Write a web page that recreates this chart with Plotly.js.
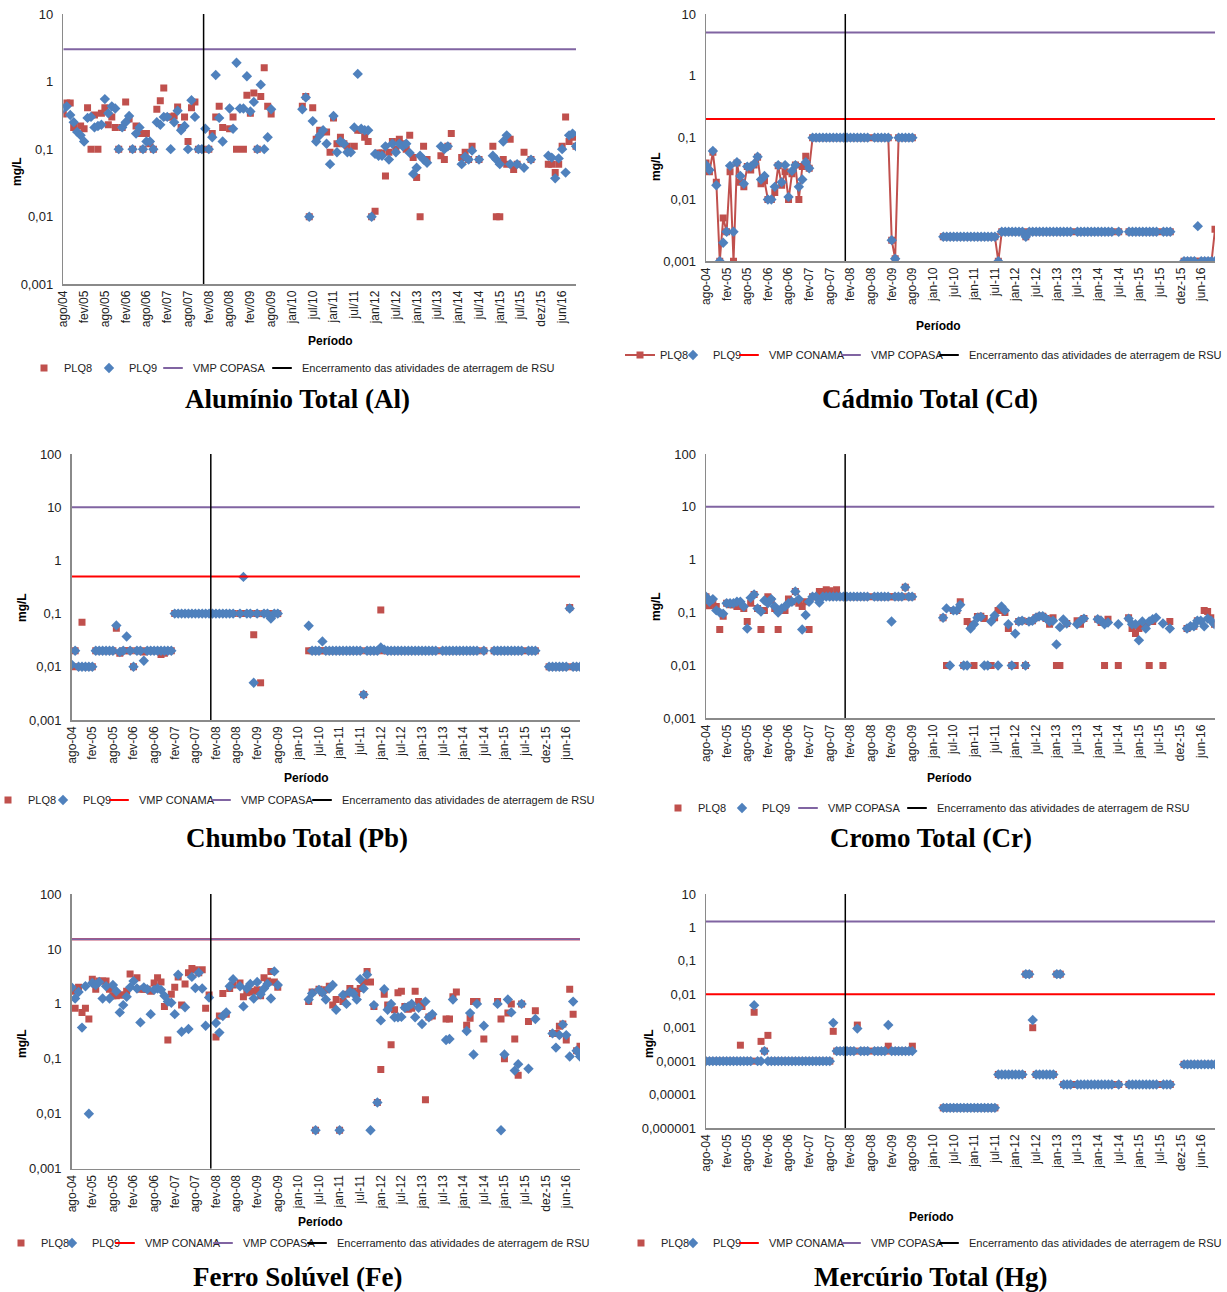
<!DOCTYPE html>
<html><head><meta charset="utf-8">
<script src="https://cdn.plot.ly/plotly-3.0.1.min.js"></script>
<style>html,body{margin:0;padding:0;background:#fff}#chart{width:1227px;height:1292px}</style>
</head><body><div id="chart"></div>
<script>
const _ = null;
const N = 149;
const tickLabelsAl = ['ago/04','fev/05','ago/05','fev/06','ago/06','fev/07','ago/07','fev/08','ago/08','fev/09','ago/09','jan/10','jul/10','jan/11','jul/11','jan/12','jul/12','jan/13','jul/13','jan/14','jul/14','jan/15','jul/15','dez/15','jun/16'];
const tickLabels = ['ago-04','fev-05','ago-05','fev-06','ago-06','fev-07','ago-07','fev-08','ago-08','fev-09','ago-09','jan-10','jul-10','jan-11','jul-11','jan-12','jul-12','jan-13','jul-13','jan-14','jul-14','jan-15','jul-15','dez-15','jun-16'];
const closureIndex = 40.5;
const elements = ['Al','Cd','Pb','Cr','Fe','Hg'];
const titles = ['Alumínio Total (Al)','Cádmio Total (Cd)','Chumbo Total (Pb)','Cromo Total (Cr)','Ferro Solúvel (Fe)','Mercúrio Total (Hg)'];
const vmpCOPASA = [3, 5, 10, 10, 15, 1.5];
const vmpCONAMA = [null, 0.2, 0.5, null, 15, 0.01];

const alPLQ8 = [
0.33,0.48,0.48,0.21,_,0.22,0.2,0.41,0.1,0.32,
0.1,0.34,0.41,0.23,0.3,0.21,0.1,0.21,0.5,0.28,
0.1,0.22,0.17,0.1,0.17,0.12,0.1,0.39,0.52,0.8,
0.3,0.3,0.31,0.42,0.21,0.3,0.13,0.41,0.5,0.1,
0.1,_,0.1,0.17,0.3,0.43,0.21,_,0.2,0.3,
0.1,_,0.1,0.63,0.34,0.68,0.1,0.6,1.6,0.43,
0.33,_,_,_,_,_,_,_,_,0.43,
0.6,0.01,0.41,0.14,0.19,_,0.18,0.09,0.29,0.12,
0.15,0.12,0.11,_,0.11,0.19,0.19,0.15,0.13,0.01,
0.012,0.088,0.088,0.04,0.09,0.13,0.1,0.14,0.12,0.1,
0.16,0.075,0.038,0.01,0.11,0.07,_,_,_,0.08,
0.07,0.11,0.17,_,_,0.075,0.09,0.07,0.11,_,
0.07,_,_,_,0.11,0.01,0.01,0.07,0.06,0.14,
0.05,0.06,_,0.09,_,0.07,_,_,_,_,
0.06,0.06,0.045,0.06,0.11,0.3,0.13,0.15,0.11];
const alPLQ9 = [
0.4,0.43,0.32,0.25,0.18,0.16,0.13,0.29,0.3,0.21,
0.22,0.23,0.55,0.34,0.43,0.4,0.1,0.21,0.25,0.31,
0.1,0.17,0.21,0.1,0.13,0.13,0.1,0.25,0.23,0.3,
0.3,0.1,0.25,0.37,0.19,0.22,0.1,0.53,0.3,0.1,
0.1,0.2,0.1,0.15,1.25,0.29,0.13,_,0.4,0.2,
1.9,0.4,0.4,1.2,0.36,0.5,0.1,0.9,0.1,0.15,
0.39,_,_,_,_,_,_,_,_,0.39,
0.58,0.01,0.26,0.13,0.16,0.19,0.12,0.06,0.31,0.09,
0.13,0.12,0.09,0.09,0.21,1.3,0.2,0.19,0.19,0.01,
0.085,0.08,0.08,0.11,0.07,0.12,0.09,0.12,0.11,0.12,
0.088,0.043,0.053,0.08,0.07,0.063,_,_,_,0.11,
0.1,0.11,_,_,_,0.06,0.077,0.07,0.095,_,
0.07,_,_,_,0.08,0.07,0.06,0.13,0.16,0.06,
_,0.06,_,0.053,_,0.07,_,_,_,_,
0.08,0.075,0.037,0.073,0.1,0.045,0.16,0.17,0.11];

const cdPLQ8 = [
0.039,0.028,0.058,0.019,0.001,0.005,0.003,0.028,0.001,0.039,
0.019,0.016,0.034,0.03,0.036,0.048,0.018,0.02,0.01,0.01,
0.013,0.035,0.017,0.028,0.01,0.026,0.036,0.01,0.034,0.05,
0.032,0.1,0.1,0.1,0.1,0.1,0.1,0.1,0.1,0.1,
0.1,0.1,0.1,0.1,0.1,0.1,0.1,0.1,_,0.1,
0.1,0.1,0.1,0.1,0.0022,0.0011,0.1,0.1,0.1,0.1,
0.1,_,_,_,_,_,_,_,_,0.0025,
0.0025,0.0025,0.0025,0.0025,0.0025,0.0025,0.0025,0.0025,0.0025,0.0025,
0.0025,0.0025,0.0025,0.0025,0.0025,0.001,0.003,0.003,0.003,0.003,
0.003,0.003,0.003,0.0025,0.003,0.003,0.003,0.003,0.003,0.003,
0.003,0.003,0.003,0.003,0.003,0.003,0.003,_,0.003,0.003,
0.003,0.003,0.003,0.003,0.003,0.003,0.003,0.003,0.003,_,
0.003,_,_,0.003,0.003,0.003,0.003,0.003,0.003,0.003,
0.003,0.003,_,0.003,0.003,0.003,_,_,_,0.001,
0.001,0.001,0.001,0.001,0.001,0.001,0.001,0.001,0.0033];
const cdPLQ9 = [
0.036,0.03,0.061,0.017,0.001,0.002,0.003,0.035,0.003,0.04,
0.024,0.018,0.034,0.034,0.038,0.049,0.021,0.024,0.01,0.01,
0.016,0.036,0.019,0.036,0.011,0.029,0.036,0.016,0.021,0.04,
0.032,0.1,0.1,0.1,0.1,0.1,0.1,0.1,0.1,0.1,
0.1,0.1,0.1,0.1,0.1,0.1,0.1,0.1,_,0.1,
0.1,0.1,0.1,0.1,0.0022,0.0011,0.1,0.1,0.1,0.1,
0.1,_,_,_,_,_,_,_,_,0.0025,
0.0025,0.0025,0.0025,0.0025,0.0025,0.0025,0.0025,0.0025,0.0025,0.0025,
0.0025,0.0025,0.0025,0.0025,0.0025,0.001,0.003,0.003,0.003,0.003,
0.003,0.003,0.003,0.0025,0.003,0.003,0.003,0.003,0.003,0.003,
0.003,0.003,0.003,0.003,0.003,0.003,0.003,_,0.003,0.003,
0.003,0.003,0.003,0.003,0.003,0.003,0.003,0.003,0.003,_,
0.003,_,_,0.003,0.003,0.003,0.003,0.003,0.003,0.003,
0.003,0.003,_,0.003,0.003,0.003,_,_,_,0.001,
0.001,0.001,0.001,0.0037,0.001,0.001,0.001,0.001,0.001];

const pbPLQ8 = [
0.01,0.02,0.01,0.069,0.01,0.01,0.01,0.02,0.02,0.02,
0.02,0.02,0.02,0.053,0.018,0.02,0.02,0.02,0.01,0.02,
0.02,0.019,0.02,0.02,0.02,0.02,0.017,0.018,0.02,0.02,
0.1,0.1,0.1,0.1,0.1,0.1,0.1,0.1,0.1,0.1,
0.1,0.1,0.1,0.1,0.1,0.1,0.1,0.1,_,0.1,
0.1,0.1,0.1,0.04,0.1,0.005,0.1,0.1,0.1,0.1,
0.1,_,_,_,_,_,_,_,_,0.02,
0.02,0.02,0.02,0.02,0.02,0.02,0.02,0.02,0.02,0.02,
0.02,0.02,0.02,0.02,0.02,0.003,0.02,0.02,0.02,0.02,
0.117,0.02,0.02,0.02,0.02,0.02,0.02,0.02,0.02,0.02,
0.02,0.02,0.02,0.02,0.02,0.02,0.02,_,0.02,0.02,
0.02,0.02,0.02,0.02,0.02,0.02,0.02,0.02,0.02,_,
0.02,_,_,0.02,0.02,0.02,0.02,0.02,0.02,0.02,
0.02,0.02,_,0.02,0.02,0.02,_,_,_,0.01,
0.01,0.01,0.01,0.01,0.01,0.13,0.01,0.01,0.01];
const pbPLQ9 = [
0.011,0.02,0.01,0.01,0.01,0.01,0.01,0.02,0.02,0.02,
0.02,0.02,0.02,0.06,0.019,0.02,0.037,0.02,0.01,0.02,
0.02,0.013,0.02,0.02,0.02,0.02,0.02,0.02,0.02,0.02,
0.1,0.1,0.1,0.1,0.1,0.1,0.1,0.1,0.1,0.1,
0.1,0.1,0.1,0.1,0.1,0.1,0.1,0.1,_,0.1,
0.49,0.1,0.1,0.005,0.1,_,0.1,0.1,0.081,0.1,
0.1,_,_,_,_,_,_,_,_,0.059,
0.02,0.02,0.02,0.03,0.02,0.02,0.02,0.02,0.02,0.02,
0.02,0.02,0.02,0.02,0.02,0.003,0.02,0.02,0.02,0.02,
0.023,0.021,0.02,0.02,0.02,0.02,0.02,0.02,0.02,0.02,
0.02,0.02,0.02,0.02,0.02,0.02,0.02,_,0.02,0.02,
0.02,0.02,0.02,0.02,0.02,0.02,0.02,0.02,0.02,_,
0.02,_,_,0.02,0.02,0.02,0.02,0.02,0.02,0.02,
0.02,0.02,_,0.02,0.02,0.02,_,_,_,0.01,
0.01,0.01,0.01,0.01,0.01,0.125,0.01,0.01,0.01];

const crPLQ8 = [
0.2,0.135,0.15,0.13,0.048,0.085,0.15,0.14,0.14,0.13,
0.13,0.12,0.068,0.15,0.22,0.12,0.048,0.11,0.2,0.17,
0.12,0.048,0.11,0.11,0.18,0.16,0.25,0.15,0.13,0.16,
0.048,0.2,0.2,0.25,0.25,0.27,0.26,0.2,0.27,0.2,
0.2,0.2,0.2,0.2,0.2,0.2,0.2,0.2,_,0.2,
0.2,0.2,0.2,0.2,0.2,0.2,0.2,0.2,0.3,0.2,
0.2,_,_,_,_,_,_,_,_,0.08,
0.01,_,0.11,0.11,0.16,0.01,0.068,0.06,0.01,0.084,
0.085,0.077,0.01,0.01,0.08,0.11,0.11,0.1,0.05,0.01,
0.01,0.068,0.07,0.01,0.068,0.07,0.08,0.085,0.085,0.077,
0.06,0.08,0.01,0.01,_,0.062,_,_,0.07,0.06,
0.077,_,_,_,0.075,0.065,0.01,0.075,_,_,
0.01,_,_,0.08,0.05,0.04,0.05,0.057,0.06,0.01,
0.068,_,_,0.01,_,0.068,_,_,_,_,
0.05,_,0.055,0.07,_,0.11,0.105,0.08,0.06];
const crPLQ9 = [
0.2,0.16,0.18,0.11,0.1,0.095,0.15,0.15,0.15,0.16,
0.16,0.13,0.05,0.19,0.22,0.12,0.105,0.17,0.15,0.18,
0.13,0.1,0.12,0.13,0.15,0.16,0.25,0.18,0.048,0.09,
0.16,0.2,0.2,0.155,0.2,0.2,0.2,0.2,0.2,0.2,
0.2,0.2,0.2,0.2,0.2,0.2,0.2,0.2,_,0.2,
0.2,0.2,0.2,0.2,0.068,0.2,0.2,0.2,0.3,0.2,
0.2,_,_,_,_,_,_,_,_,0.08,
0.12,0.01,0.11,0.11,0.14,0.01,0.01,0.05,0.06,0.08,
0.083,0.01,0.01,0.068,0.088,0.01,0.13,0.11,0.06,0.01,
0.04,0.068,0.07,0.01,0.068,0.07,0.08,0.085,0.085,0.077,
0.068,0.07,0.025,0.053,0.074,0.062,_,_,0.06,0.07,
0.077,_,_,_,0.075,0.07,0.06,0.065,_,_,
0.06,_,_,0.077,0.06,0.06,0.03,0.068,0.05,0.068,
0.075,0.08,_,0.062,_,0.05,_,_,_,_,
0.05,0.055,0.055,0.07,0.07,0.055,0.077,0.07,0.06];

const fePLQ8 = [
1.7,0.83,2.0,0.7,0.83,0.53,2.8,1.85,2.6,2.6,
2.6,1.85,1.4,1.4,1.45,1.45,1.7,3.5,_,3.0,
1.85,1.85,1.85,1.7,2.4,3.0,2.5,0.9,0.22,1.5,
2.0,3.1,0.95,2.3,3.7,4.4,4.2,3.7,4.2,0.83,
1.45,_,0.25,0.6,1.55,0.65,1.9,2.2,_,2.4,
1.35,1.6,1.65,1.7,1.8,1.4,3.0,2.6,3.9,2.5,
2.0,_,_,_,_,_,_,_,_,1.1,
1.65,0.005,1.85,1.6,1.8,2.1,0.95,1.2,0.005,1.1,
1.5,1.9,1.7,1.55,1.9,2.5,3.9,2.5,0.9,0.016,
0.064,1.5,0.95,0.18,0.78,1.6,1.7,0.9,0.8,0.83,
1.7,1.1,0.9,0.018,0.58,0.6,_,_,_,0.53,
0.53,1.35,1.65,_,_,0.41,0.55,1.1,1.1,_,
0.23,_,_,_,1.1,0.53,0.1,0.68,1.0,0.23,
0.05,1.0,_,0.48,_,0.75,_,_,_,_,
0.29,0.29,0.39,0.43,0.22,1.85,0.65,0.14,0.17];
const fePLQ9 = [
2.0,1.25,1.65,0.37,2.1,0.01,2.4,2.2,2.5,1.25,
2.1,1.25,2.2,1.7,0.7,0.95,1.35,2.0,2.6,1.9,
0.46,2.0,1.85,0.65,1.8,1.9,1.8,1.4,1.1,1.05,
0.65,3.4,0.31,0.87,0.35,3.1,1.95,3.7,1.9,0.4,
1.3,_,0.45,0.3,0.6,0.7,2.1,2.8,_,2.1,
0.9,1.9,2.3,1.25,2.5,1.5,1.9,2.3,1.25,3.9,
2.2,_,_,_,_,_,_,_,_,1.2,
1.55,0.005,1.8,1.6,1.2,1.9,2.2,0.78,0.005,1.45,
1.0,1.65,1.55,1.2,2.8,1.9,3.4,0.005,0.95,0.016,
0.5,1.85,0.78,1.0,0.57,0.57,0.58,0.85,0.9,1.0,
0.57,0.85,0.43,1.1,0.57,0.65,_,_,_,0.22,
0.23,1.2,_,_,_,0.32,0.68,0.12,1.0,_,
0.4,_,_,_,1.0,0.005,0.12,1.2,0.7,0.061,
0.08,1.0,_,0.066,_,0.53,_,_,_,_,
0.29,0.16,0.27,0.42,0.27,0.11,1.1,0.14,0.11];

const hgPLQ8 = [
0.0001,0.0001,0.0001,0.0001,0.0001,0.0001,0.0001,0.0001,0.0001,0.0001,
0.0003,0.0001,0.0001,0.0001,0.0029,0.0001,0.00039,0.0002,0.00059,0.0001,
0.0001,0.0001,0.0001,0.0001,0.0001,0.0001,0.0001,0.0001,0.0001,0.0001,
0.0001,0.0001,0.0001,0.0001,0.0001,0.0001,0.0001,0.00078,0.0002,0.0002,
0.0002,0.0002,0.0002,0.0002,0.0012,0.0002,0.0002,0.0002,_,0.0002,
0.0002,0.0002,0.0002,0.00028,0.0002,0.0002,0.0002,0.0002,0.0002,0.0002,
0.00028,_,_,_,_,_,_,_,_,0.000004,
0.000004,0.000004,0.000004,0.000004,0.000004,0.000004,0.000004,0.000004,0.000004,0.000004,
0.000004,0.000004,0.000004,0.000004,0.000004,0.00004,0.00004,0.00004,0.00004,0.00004,
0.00004,0.00004,0.00004,0.04,0.04,0.001,0.00004,0.00004,0.00004,0.00004,
0.00004,0.00004,0.04,0.04,0.00002,0.00002,0.00002,_,0.00002,0.00002,
0.00002,0.00002,0.00002,0.00002,0.00002,0.00002,0.00002,0.00002,0.00002,_,
0.00002,_,_,0.00002,0.00002,0.00002,0.00002,0.00002,0.00002,0.00002,
0.00002,0.00002,_,0.00002,0.00002,0.00002,_,_,_,0.00008,
0.00008,0.00008,0.00008,0.00008,0.00008,0.00008,0.00008,0.00008,0.00008];
const hgPLQ9 = [
0.0001,0.0001,0.0001,0.0001,0.0001,0.0001,0.0001,0.0001,0.0001,0.0001,
0.0001,0.0001,0.0001,0.0001,0.0047,0.0001,0.0001,0.0002,0.0001,0.0001,
0.0001,0.0001,0.0001,0.0001,0.0001,0.0001,0.0001,0.0001,0.0001,0.0001,
0.0001,0.0001,0.0001,0.0001,0.0001,0.0001,0.0001,0.0014,0.0002,0.0002,
0.0002,0.0002,0.0002,0.0002,0.00094,0.0002,0.0002,0.0002,_,0.0002,
0.0002,0.0002,0.0002,0.0012,0.0002,0.0002,0.0002,0.0002,0.0002,0.0002,
0.0002,_,_,_,_,_,_,_,_,0.000004,
0.000004,0.000004,0.000004,0.000004,0.000004,0.000004,0.000004,0.000004,0.000004,0.000004,
0.000004,0.000004,0.000004,0.000004,0.000004,0.00004,0.00004,0.00004,0.00004,0.00004,
0.00004,0.00004,0.00004,0.04,0.04,0.0017,0.00004,0.00004,0.00004,0.00004,
0.00004,0.00004,0.04,0.04,0.00002,0.00002,0.00002,_,0.00002,0.00002,
0.00002,0.00002,0.00002,0.00002,0.00002,0.00002,0.00002,0.00002,0.00002,_,
0.00002,_,_,0.00002,0.00002,0.00002,0.00002,0.00002,0.00002,0.00002,
0.00002,0.00002,_,0.00002,0.00002,0.00002,_,_,_,0.00008,
0.00008,0.00008,0.00008,0.00008,0.00008,0.00008,0.00008,0.00008,0.00008];

const seriesPLQ8 = [alPLQ8, cdPLQ8, pbPLQ8, crPLQ8, fePLQ8, hgPLQ8];
const seriesPLQ9 = [alPLQ9, cdPLQ9, pbPLQ9, crPLQ9, fePLQ9, hgPLQ9];
[...seriesPLQ8, ...seriesPLQ9].forEach((a, i) => { if (a.length !== N) throw new Error('series ' + i + ' has length ' + a.length); });

const yTickVals = [
  [0.001,0.01,0.1,1,10],
  [0.001,0.01,0.1,1,10],
  [0.001,0.01,0.1,1,10,100],
  [0.001,0.01,0.1,1,10,100],
  [0.001,0.01,0.1,1,10,100],
  [0.000001,0.00001,0.0001,0.001,0.01,0.1,1,10]];
const yTickText = [
  ['0,001','0,01','0,1','1','10'],
  ['0,001','0,01','0,1','1','10'],
  ['0,001','0,01','0,1','1','10','100'],
  ['0,001','0,01','0,1','1','10','100'],
  ['0,001','0,01','0,1','1','10','100'],
  ['0,000001','0,00001','0,0001','0,001','0,01','0,1','1','10']];

/* ---------- layout geometry (pixels) ---------- */
const W = 1227, H = 1292;
const boxes = [[63.3,576,14,284.3],[706,1215,14,261.3],[71.7,580,454,720],[706,1214.5,454,718.3],[71.7,580,894,1168.7],[706,1215,894,1128]];
const titleXY = [[297,399],[930,399],[297,838],[931,838],[297,1277],[930,1277]];
const periodoXY = [[330,341],[938,326],[306,778],[949,778],[320,1222],[932,1217]];
const mglXY = [[17,172],[656,167],[22,608],[656,607],[22,1044],[649,1044]];
const legendY = [368,355,800,808,1243,1243];
const legendTextX = [[61,126,null,188,297],[657,710,764,866,964],[25,80,134,236,337],[695,759,null,823,932],[38,89,140,238,332],[658,710,764,866,964]];

const C8 = '#C0504D', C9 = '#4F81BD', CPURPLE = '#8064A2', CRED = '#FF0000';
const AXC = '#8a8a8a';
const FONT = 'Liberation Sans, Arial, sans-serif';
const idx = Array.from({length: N}, (v, i) => i);

const data = [];
const layout = {width: W, height: H, margin: {l:0, r:0, t:0, b:0, autoexpand: false}, paper_bgcolor: '#fff', plot_bgcolor: '#fff',
  showlegend: true, annotations: [], font: {family: FONT, color: '#222'}};
let legCount = 0;
function newLegend(textX, yc, shift) {
  legCount++;
  const name = legCount === 1 ? 'legend' : 'legend' + legCount;
  layout[name] = {x: (textX - 40 + shift) / W, y: 1 - yc / H, xanchor: 'left', yanchor: 'middle', orientation: 'h',
    bgcolor: 'rgba(0,0,0,0)', font: {family: FONT, size: 11, color: '#222'}, itemwidth: 30, borderwidth: 0};
  return name;
}
// reference line drawn as a line trace; its legend key is a short dash (as in the original) via a key-only entry
function refLine(x, y, xr, yr, name, color, width, textX, yc) {
  const leg = newLegend(textX, yc, 5);
  data.push({type: 'scatter', x: x, y: y, xaxis: xr, yaxis: yr, name: name, mode: 'lines',
    line: {color: color, width: width}, showlegend: false, legendgroup: leg, legend: leg});
  data.push({type: 'scatter', x: [null], y: [null], xaxis: xr, yaxis: yr, name: name, mode: 'markers',
    marker: {symbol: 'line-ew', size: 14, color: color, line: {color: color, width: 2}},
    legendgroup: leg, legend: leg, hoverinfo: 'skip'});
}

for (let p = 0; p < 6; p++) {
  const n = p + 1;
  const xa = n === 1 ? 'xaxis' : 'xaxis' + n, ya = n === 1 ? 'yaxis' : 'yaxis' + n;
  const xr = n === 1 ? 'x' : 'x' + n, yr = n === 1 ? 'y' : 'y' + n;
  const [x0, x1, y0, y1] = boxes[p];
  const tv = yTickVals[p];
  const yMin = tv[0], yMax = tv[tv.length - 1];
  const labels = p === 0 ? tickLabelsAl : tickLabels;
  layout[xa] = {domain: [x0 / W, x1 / W], anchor: yr, range: [0, N - 1], tickmode: 'array',
    tickvals: labels.map((l, i) => i * 6), ticktext: labels, tickangle: -90, ticks: '',
    tickfont: {family: FONT, size: 12, color: '#222'}, showline: true, linecolor: AXC, linewidth: 1.5,
    showgrid: false, zeroline: false, fixedrange: true, automargin: false};
  layout[ya] = {domain: [1 - y1 / H, 1 - y0 / H], anchor: xr, type: 'log', range: [Math.log10(yMin), Math.log10(yMax)],
    tickmode: 'array', tickvals: tv, ticktext: yTickText[p], ticks: '', ticklabelstandoff: 6,
    tickfont: {family: FONT, size: 13, color: '#222'}, showline: true, linecolor: AXC, linewidth: 1.5,
    showgrid: false, zeroline: false, fixedrange: true, automargin: false};

  const lx = legendTextX[p], ly = legendY[p];
  data.push({type: 'scatter', x: idx, y: seriesPLQ8[p], xaxis: xr, yaxis: yr, name: 'PLQ8',
    mode: p === 1 ? 'lines+markers' : 'markers', connectgaps: false,
    line: {color: C8, width: 2}, marker: {symbol: 'square', size: 7, color: C8},
    legend: newLegend(lx[0], ly, 3)});
  data.push({type: 'scatter', x: idx, y: seriesPLQ9[p], xaxis: xr, yaxis: yr, name: 'PLQ9', mode: 'markers',
    marker: {symbol: 'diamond', size: 8, color: C9}, legend: newLegend(lx[1], ly, 3)});
  if (lx[2] !== null) {
    const v = vmpCONAMA[p];
    refLine([0, N - 1], [v, v], xr, yr, 'VMP CONAMA', CRED, 2, lx[2], ly);
  }
  const c = vmpCOPASA[p];
  refLine([0, N - 1], [c, c], xr, yr, 'VMP COPASA', CPURPLE, 2, lx[3], ly);
  refLine([closureIndex, closureIndex], [yMin, yMax], xr, yr, 'Encerramento das atividades de aterragem de RSU', '#000', 1.5, lx[4], ly);

  layout.annotations.push({xref: 'paper', yref: 'paper', x: titleXY[p][0] / W, y: 1 - titleXY[p][1] / H,
    xanchor: 'center', yanchor: 'middle', showarrow: false, text: '<b>' + titles[p] + '</b>',
    font: {family: 'Liberation Serif, Times New Roman, serif', size: 27, color: '#000'}});
  layout.annotations.push({xref: 'paper', yref: 'paper', x: periodoXY[p][0] / W, y: 1 - periodoXY[p][1] / H,
    xanchor: 'center', yanchor: 'middle', showarrow: false, text: '<b>Período</b>',
    font: {family: FONT, size: 12, color: '#000'}});
  layout.annotations.push({xref: 'paper', yref: 'paper', x: mglXY[p][0] / W, y: 1 - mglXY[p][1] / H,
    xanchor: 'center', yanchor: 'middle', showarrow: false, text: '<b>mg/L</b>', textangle: -90,
    font: {family: FONT, size: 12, color: '#000'}});
}

Plotly.newPlot('chart', data, layout, {displayModeBar: false, staticPlot: true});
</script>
</body></html>
